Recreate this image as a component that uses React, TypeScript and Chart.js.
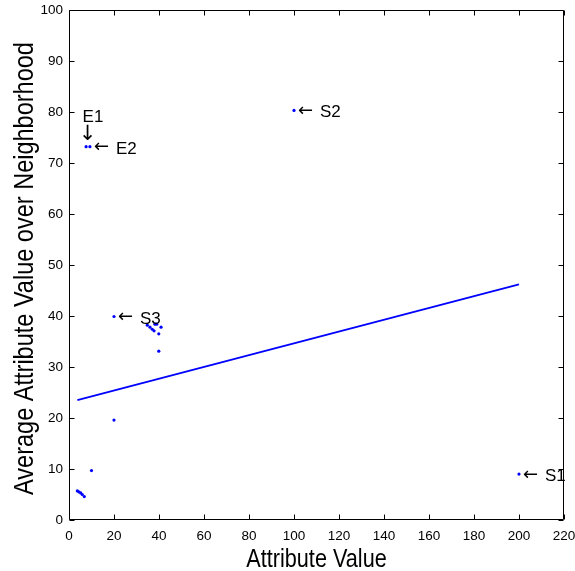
import React, { useEffect, useRef } from 'react';
import { Chart, registerables } from 'chart.js';

Chart.register(...registerables);

// Scatter points (attribute value, average over neighborhood)
const pointX = [3.7, 4.4, 5.2, 5.9, 6.8, 10, 20, 20, 34.8, 36, 37, 37.8, 38.2, 39, 40.9, 39.9, 39.9, 7.6, 9.3, 100, 200];
const pointY = [5.7, 5.5, 5.3, 5.0, 4.6, 9.7, 19.6, 39.9, 38.2, 37.8, 37.4, 37.1, 38.4, 38.4, 37.8, 36.5, 33.1, 73.2, 73.2, 80.3, 9.0];

// Fitted regression line end points
const fitX = [3.7, 200];
const fitY = [23.5, 46.2];

// Annotated points
const labelNames = ['S1', 'S2', 'S3', 'E2', 'E1'];
const labelX = [200, 100, 20, 9.3, 7.6];
const labelY = [9.0, 80.3, 39.9, 73.2, 73.2];

// Axis ticks
const xTicks = [0, 20, 40, 60, 80, 100, 120, 140, 160, 180, 200, 220];
const yTicks = [0, 10, 20, 30, 40, 50, 60, 70, 80, 90, 100];

const xTitle = 'Attribute Value';
const yTitle = 'Average Attribute Value over Neighborhood';

const FONT = "'Liberation Sans', Arial, sans-serif";
const ARROW_FONT = "'DejaVu Sans', sans-serif";
const BLUE = '#0000ff';

const boxPlugin = {
  id: 'matlabBox',
  afterDraw(chart: any) {
    const { ctx, chartArea } = chart;
    const xs = chart.scales.x;
    const ys = chart.scales.y;
    const l = Math.round(chartArea.left) + 0.5;
    const r = Math.round(chartArea.right) - 0.5;
    const t = Math.round(chartArea.top) + 0.5;
    const b = Math.round(chartArea.bottom) - 0.5;
    ctx.save();
    ctx.strokeStyle = '#000';
    ctx.lineWidth = 1;
    ctx.beginPath();
    ctx.rect(l, t, r - l, b - t);
    const tl = 5;
    xTicks.forEach((v) => {
      const px = Math.round(xs.getPixelForValue(v)) + 0.5;
      ctx.moveTo(px, b);
      ctx.lineTo(px, b - tl);
      ctx.moveTo(px, t);
      ctx.lineTo(px, t + tl);
    });
    yTicks.forEach((v) => {
      const py = Math.round(ys.getPixelForValue(v)) + 0.5;
      ctx.moveTo(l, py);
      ctx.lineTo(l + tl, py);
      ctx.moveTo(r, py);
      ctx.lineTo(r - tl, py);
    });
    ctx.stroke();

    // annotations
    ctx.fillStyle = '#000';
    labelNames.forEach((name, i) => {
      const px = xs.getPixelForValue(labelX[i]);
      const py = ys.getPixelForValue(labelY[i]);
      if (name === 'E1') {
        ctx.font = `17px ${FONT}`;
        ctx.textAlign = 'left';
        ctx.textBaseline = 'alphabetic';
        ctx.fillText(name, px - 3.5, py - 25);
        ctx.font = `21px ${ARROW_FONT}`;
        ctx.textAlign = 'center';
        ctx.textBaseline = 'middle';
        ctx.fillText('\u2193', px + 1.5, py - 12);
      } else {
        ctx.font = `18px ${ARROW_FONT}`;
        ctx.textAlign = 'left';
        ctx.textBaseline = 'middle';
        ctx.fillText('\u2190', px + 4, py + 1);
        ctx.font = `17px ${FONT}`;
        ctx.textBaseline = 'alphabetic';
        ctx.fillText(name, px + 26, py + 7);
      }
    });

    // axis titles (horizontally condensed sans, as in the reference)
    const cx = (chartArea.left + chartArea.right) / 2;
    ctx.save();
    ctx.font = `25.5px ${FONT}`;
    ctx.textAlign = 'center';
    ctx.textBaseline = 'alphabetic';
    ctx.translate(cx, 566.5);
    ctx.scale(0.85, 1);
    ctx.fillText(xTitle, 0, 0);
    ctx.restore();

    ctx.save();
    ctx.font = `28px ${FONT}`;
    ctx.textAlign = 'center';
    ctx.textBaseline = 'alphabetic';
    ctx.translate(33, 268.5);
    ctx.rotate(-Math.PI / 2);
    ctx.scale(0.84, 1);
    ctx.fillText(yTitle, 0, 0);
    ctx.restore();

    ctx.restore();
  },
};

export default function App() {
  const ref = useRef<HTMLCanvasElement>(null);
  useEffect(() => {
    if (!ref.current) return;
    const chart = new Chart(ref.current, {
      type: 'scatter',
      data: {
        datasets: [
          {
            data: pointX.map((x, i) => ({ x, y: pointY[i] })),
            backgroundColor: BLUE,
            borderWidth: 0,
            pointRadius: 1.6,
            showLine: false,
          },
          {
            data: fitX.map((x, i) => ({ x, y: fitY[i] })),
            borderColor: BLUE,
            borderWidth: 1.8,
            pointRadius: 0,
            showLine: true,
          },
        ],
      },
      options: {
        responsive: false,
        animation: false,
        layout: { padding: { left: 0, right: 11, top: 10, bottom: 0 } },
        plugins: { legend: { display: false }, tooltip: { enabled: false } },
        scales: {
          x: {
            type: 'linear',
            min: 0,
            max: 220,
            grid: { display: false, drawTicks: false },
            border: { display: false },
            afterBuildTicks: (s: any) => {
              s.ticks = xTicks.map((v) => ({ value: v }));
            },
            afterFit: (s: any) => {
              s.height = 51;
              s.paddingLeft = 0;
              s.paddingRight = 0;
            },
            ticks: {
              padding: 8,
              color: '#000',
              font: { family: FONT, size: 13.5 },
              autoSkip: false,
              maxRotation: 0,
            },
          },
          y: {
            type: 'linear',
            min: 0,
            max: 100,
            grid: { display: false, drawTicks: false },
            border: { display: false },
            afterBuildTicks: (s: any) => {
              s.ticks = yTicks.map((v) => ({ value: v }));
            },
            afterFit: (s: any) => {
              s.width = 69;
              s.paddingTop = 0;
              s.paddingBottom = 0;
            },
            ticks: {
              padding: 6,
              color: '#000',
              font: { family: FONT, size: 13.5 },
              autoSkip: false,
            },
          },
        },
      },
      plugins: [boxPlugin],
    });
    return () => chart.destroy();
  }, []);
  return (
    <div style={{ position: 'absolute', left: 0, top: 0, width: 575, height: 571, background: '#fff' }}>
      <canvas ref={ref} width={575} height={571} style={{ display: 'block' }} />
    </div>
  );
}
